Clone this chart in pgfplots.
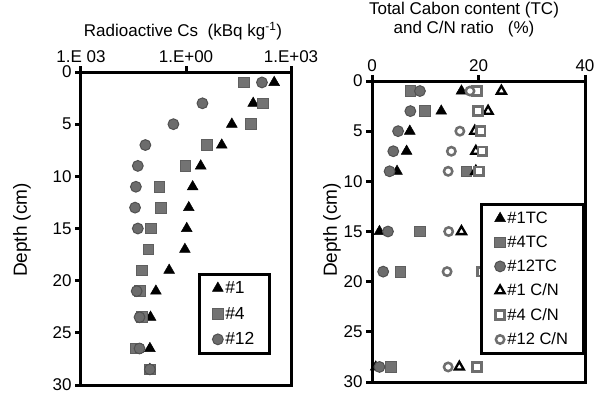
\documentclass[border=0pt]{standalone}
\usepackage{pgfplots}
\pgfplotsset{compat=1.18}
\usepackage{fontspec}
\setmainfont{Liberation Sans}
\definecolor{sqfill}{RGB}{115,115,115}
\definecolor{sqdraw}{RGB}{95,95,95}
\definecolor{cifill}{RGB}{108,108,108}
\definecolor{cidraw}{RGB}{80,80,80}
\definecolor{opgray}{RGB}{110,110,110}
\newcommand{\fs}[1]{\fontsize{#1bp}{#1bp}\selectfont}
\begin{document}
\begin{tikzpicture}
\useasboundingbox (0,0) rectangle (598bp,394bp);
\pgfplotsset{
  panel/.style={
    scale only axis, anchor=south west,
    y dir=reverse, ymin=0, ymax=30, ytick={0,5,...,30},
    axis line style={line width=3bp},
    tick align=outside, major tick length=6bp,
    major tick style={line width=3bp, black},
    xtick pos=right, xticklabel pos=right, ytick pos=left,
    tick label style={font=\fs{17}},
    /pgf/number format/assume math mode=true,
    legend cell align=left,
    legend style={draw=black, line width=3bp, fill=white, font=\fs{16.5}},
  },
  tri/.style={only marks, mark=triangle*, mark size=6.2bp, mark options={fill=black, draw=black, line width=0.5bp}},
  sq/.style={only marks, mark=square*, mark size=5.3bp, mark options={fill=sqfill, draw=sqdraw, line width=0.8bp}},
  ci/.style={only marks, mark=*, mark size=5.4bp, mark options={fill=cifill, draw=cidraw, line width=1bp}},
  otri/.style={only marks, mark=triangle*, mark size=5.2bp, mark options={fill=white, draw=black, line width=2.3bp}},
  osq/.style={only marks, mark=square*, mark size=4.4bp, mark options={fill=white, draw=opgray, line width=2.6bp}},
  oci/.style={only marks, mark=*, mark size=4.2bp, mark options={fill=white, draw=opgray, line width=2.5bp}},
}
% ---------------- left panel ----------------
\begin{axis}[panel, at={(81bp,9bp)}, width=210bp, height=313bp,
  xmode=log, xmin=1e-3, xmax=1e3, xtick={1e-3,1,1e3},
  xticklabels={1.E 03,1.E+00,1.E+03},
  legend style={at={(0.557,0.358)}, anchor=north west, inner xsep=13bp, inner ysep=5bp, row sep=8bp, font=\fs{17.5}}]
\addplot[tri] coordinates {
 (331,1) (83,3) (20.4,5) (10.5,7) (2.63,9) (1.55,11) (1.20,13) (1.05,15)
 (0.93,17) (0.33,19) (0.138,21) (0.097,23.5) (0.093,26.5) (0.093,28.5)};
\addplot[sq] coordinates {
 (45.7,1) (155,3) (70.8,5) (3.89,7) (0.955,9) (0.174,11) (0.195,13) (0.100,15)
 (0.085,17) (0.056,19) (0.049,21) (0.054,23.5) (0.037,26.5) (0.093,28.5)};
\addplot[ci] coordinates {
 (148,1) (2.95,3) (0.437,5) (0.069,7) (0.042,9) (0.037,11) (0.035,13) (0.042,15)
 (0.039,21) (0.047,23.5) (0.047,26.5) (0.093,28.5)};
\legend{\#1,\#4,\#12}
\end{axis}
% ---------------- right panel ----------------
\begin{axis}[panel, at={(372bp,12bp)}, width=213bp, height=301bp,
  xmin=0, xmax=40, xtick={0,20,40},
  legend style={at={(1,0.595)}, anchor=north east, inner xsep=13.5bp, inner ysep=5.5bp, row sep=7bp}]
\addplot[tri] coordinates {
 (16.8,1) (13.0,3) (7.1,5) (6.5,7) (4.7,9) (1.4,15) (0.7,28.5)};
\addplot[sq] coordinates {
 (7.2,1) (9.9,3) (17.7,9) (9.0,15) (5.3,19) (3.6,28.5)};
\addplot[ci] coordinates {
 (9.0,1) (7.2,3) (4.9,5) (4.0,7) (3.3,9) (3.0,15) (2.1,19) (1.4,28.5)};
\addplot[otri] coordinates {
 (24.3,1) (21.8,3) (19.3,5) (19.5,7) (19.5,9) (16.8,15) (16.4,28.5)};
\addplot[osq] coordinates {
 (19.7,1) (19.9,3) (20.4,5) (20.7,7) (20.1,9) (20.6,19) (19.7,28.5)};
\addplot[oci] coordinates {
 (18.4,1) (16.5,5) (14.9,7) (14.3,9) (14.4,15) (14.1,19) (14.3,28.5)};
\legend{\#1TC,\#4TC,\#12TC,\#1 C/N,\#4 C/N,\#12 C/N}
\end{axis}
% ---------------- titles ----------------
\node[font=\fs{17}] at (183bp,363bp) {Radioactive Cs\ \ (kBq kg\textsuperscript{-1})};
\node[font=\fontsize{17bp}{19bp}\selectfont, align=center] at (464bp,374.5bp) {Total Cabon content (TC)\\and C/N ratio\ \ \ (\%)};
\node[font=\fs{19}, rotate=90] at (22bp,164bp) {Depth (cm)};
\node[font=\fs{19}, rotate=90] at (332bp,164bp) {Depth (cm)};
\end{tikzpicture}
\end{document}
